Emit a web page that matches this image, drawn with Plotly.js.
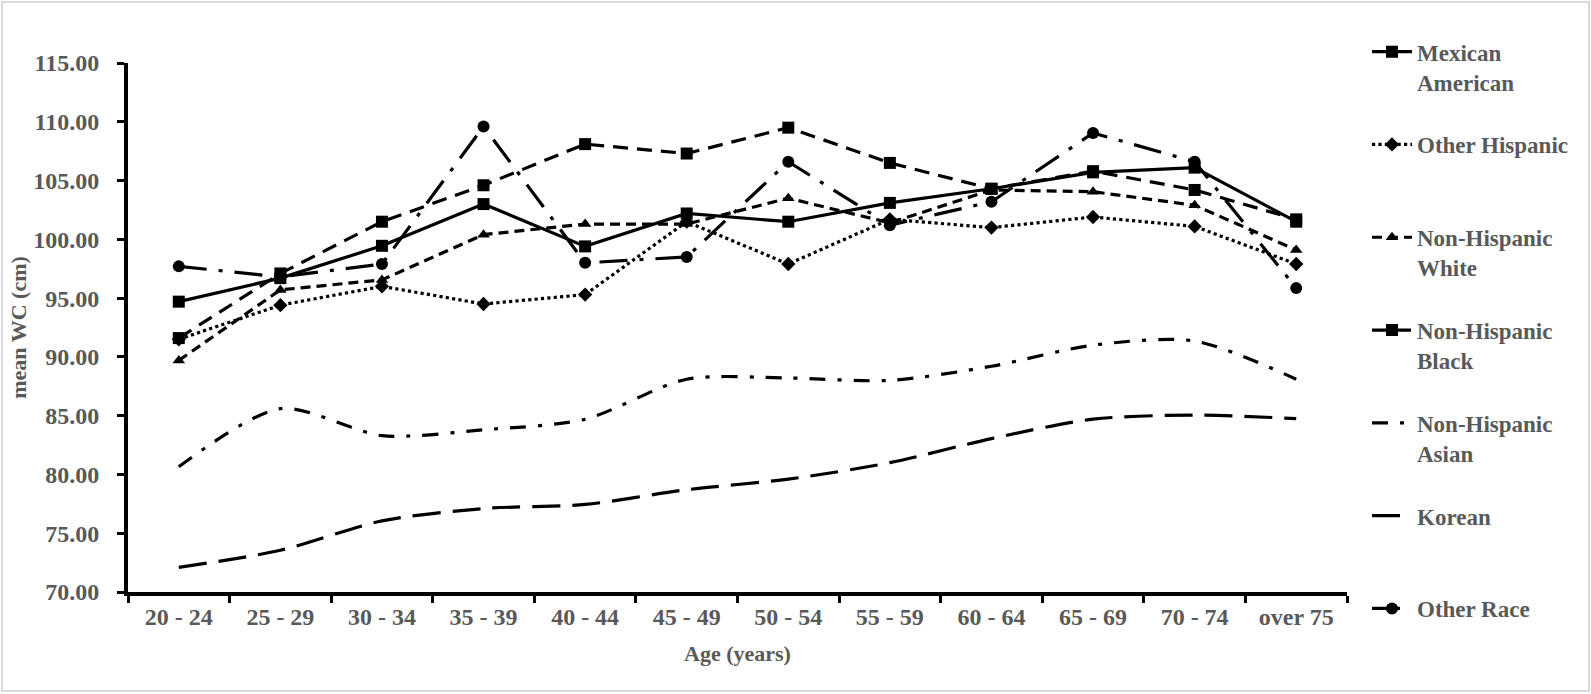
<!DOCTYPE html>
<html>
<head>
<meta charset="utf-8">
<script src="https://cdn.plot.ly/plotly-3.0.1.min.js"></script>
<style>
  html, body { margin: 0; padding: 0; background: #ffffff; }
  #wrap { position: relative; width: 1591px; height: 694px; }
  #frame { position: absolute; left: 1px; top: 1px; width: 1585px; height: 687px; border: 2px solid #d9d9d9; pointer-events: none; }
  #chart { position: absolute; left: 0; top: 0; width: 1591px; height: 694px; }
</style>
</head>
<body>
<div id="wrap">
  <div id="chart"></div>
  <div id="frame"></div>
</div>
<script>
const ageGroups = ["20 - 24", "25 - 29", "30 - 34", "35 - 39", "40 - 44", "45 - 49", "50 - 54", "55 - 59", "60 - 64", "65 - 69", "70 - 74", "over 75"];

const mexicanAmerican   = [94.7, 96.7, 99.45, 103.0, 99.4, 102.2, 101.5, 103.1, 104.3, 105.7, 106.1, 101.5];
const otherHispanic     = [91.5, 94.4, 96.0, 94.5, 95.3, 101.5, 97.9, 101.7, 101.0, 101.9, 101.1, 97.9];
const nonHispanicWhite  = [89.7, 95.7, 96.55, 100.4, 101.3, 101.3, 103.5, 101.4, 104.2, 104.05, 102.9, 99.1];
const nonHispanicBlack  = [91.6, 97.1, 101.5, 104.6, 108.1, 107.3, 109.5, 106.5, 104.3, 105.8, 104.2, 101.7];
const nonHispanicAsian  = [80.65, 85.6, 83.3, 83.8, 84.7, 88.1, 88.2, 88.0, 89.2, 91.0, 91.35, 88.1];
const korean            = [72.1, 73.55, 76.05, 77.1, 77.45, 78.7, 79.6, 81.0, 83.05, 84.7, 85.05, 84.75];
const otherRace         = [97.7, 96.8, 97.9, 109.6, 98.0, 98.5, 106.6, 101.2, 103.2, 109.05, 106.6, 95.85];

const seriesNames = ["Mexican<br>American", "Other Hispanic<br> ", "Non-Hispanic<br>White", "Non-Hispanic<br>Black", "Non-Hispanic<br>Asian", "Korean<br> ", "Other Race<br> "];

const black = "#000000";
function tr(name, y, dash, symbol, msize, shape, group) {
  const t = {
    x: ageGroups, y: y, name: name, type: "scatter",
    mode: symbol ? "lines+markers" : "lines",
    legendgroup: group,
    line: { color: black, width: 3.2, dash: dash, shape: shape || "linear", smoothing: 0.8 },
    cliponaxis: false
  };
  if (symbol) t.marker = { symbol: symbol, size: msize, color: black };
  return t;
}

const data = [
  tr(seriesNames[0], mexicanAmerican, "solid", "square", 12, "linear", "g1"),
  tr(seriesNames[1], otherHispanic, "dot", "diamond", 11, "linear", "g2"),
  tr(seriesNames[2], nonHispanicWhite, "10px,6px", "triangle-up", 11, "linear", "g3"),
  tr(seriesNames[3], nonHispanicBlack, "15px,9px", "square", 12, "linear", "g4"),
  tr(seriesNames[4], nonHispanicAsian, "16px,12px,4px,12px", null, 0, "spline", "g5"),
  tr(seriesNames[5], korean, "28px,12px", null, 0, "spline", "g6"),
  tr(seriesNames[6], otherRace, "28px,12px,4px,12px", "circle", 12, "linear", "g7")
];

const gray = "#595959";
const fontFam = "'Liberation Serif', 'Times New Roman', serif";

const layout = {
  width: 1591, height: 694,
  paper_bgcolor: "rgba(0,0,0,0)", plot_bgcolor: "#ffffff",
  margin: { l: 128, r: 244, t: 63, b: 102 },
  font: { family: fontFam, color: gray, size: 24 },
  showlegend: true,
  legend: {
    x: 1.0164, xanchor: "left", y: 1.062, yanchor: "top",
    valign: "top",
    tracegroupgap: 30,
    itemwidth: 40,
    maxheight: 690,
    font: { family: fontFam, color: gray, size: 23, weight: "bold" },
    bgcolor: "rgba(0,0,0,0)"
  },
  xaxis: {
    type: "category",
    showgrid: false, zeroline: false,
    showline: true, linecolor: black, linewidth: 4,
    ticks: "outside", tickson: "boundaries", ticklen: 7, tickwidth: 3, tickcolor: black,
    tickfont: { family: fontFam, color: gray, size: 24, weight: "bold" },
    title: { text: "Age (years)", font: { family: fontFam, color: gray, size: 22, weight: "bold" }, standoff: 18 },
    automargin: false,
    range: [-0.5, 11.5]
  },
  yaxis: {
    range: [70, 115], dtick: 5, tick0: 70, tickformat: ".2f",
    showgrid: false, zeroline: false,
    showline: true, linecolor: black, linewidth: 4,
    ticks: "outside", ticklen: 7, tickwidth: 3, tickcolor: black,
    ticklabelstandoff: 13,
    tickfont: { family: fontFam, color: gray, size: 24, weight: "bold" },
    title: { text: "mean WC (cm)", font: { family: fontFam, color: gray, size: 22, weight: "bold" }, standoff: 2 },
    automargin: false
  }
};

Plotly.newPlot("chart", data, layout, { staticPlot: true, displayModeBar: false });
</script>
</body>
</html>
